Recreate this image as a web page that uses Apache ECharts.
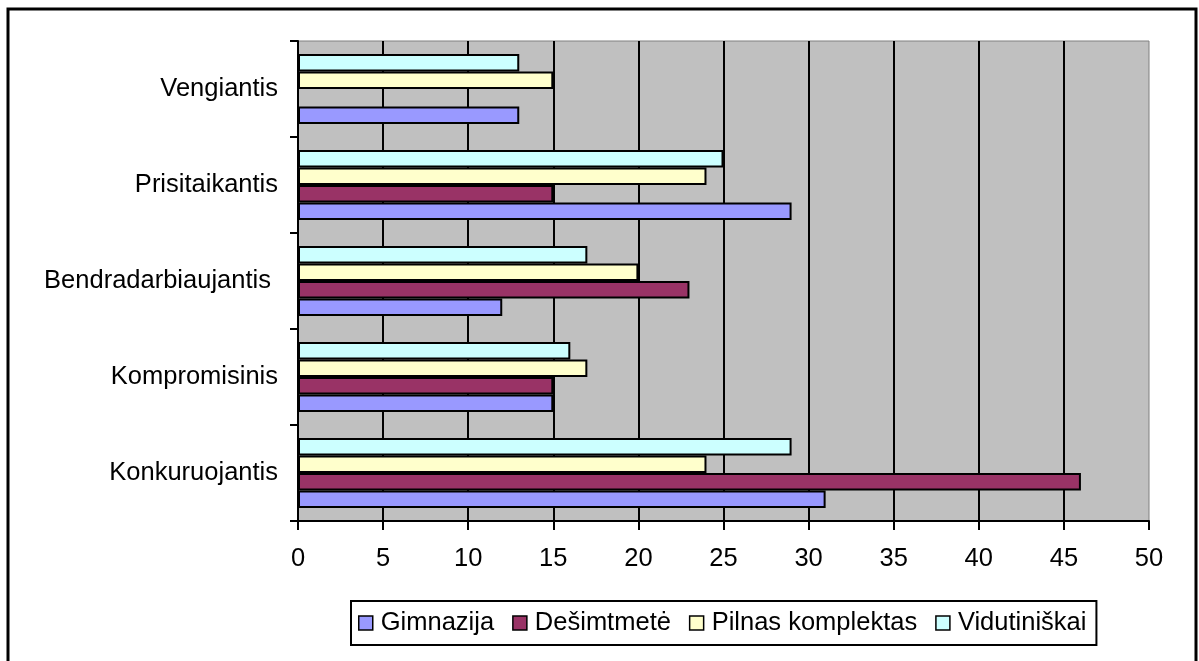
<!DOCTYPE html>
<html>
<head>
<meta charset="utf-8">
<script src="https://cdn.jsdelivr.net/npm/echarts@6/dist/echarts.min.js"></script>
<style>
  html, body { margin: 0; padding: 0; background: #fff; }
  #chart { width: 1199px; height: 661px; }
</style>
</head>
<body>
<div id="chart"></div>
<script>
  // categories from bottom to top
  var categories = ['Konkuruojantis', 'Kompromisinis', 'Bendradarbiaujantis ', 'Prisitaikantis', 'Vengiantis']
  var seriesNames = ['Gimnazija', 'Dešimtmetė', 'Pilnas komplektas', 'Vidutiniškai']
  var gimnazija = [31, 15, 12, 29, 13]
  var desimtmete = [46, 15, 23, 15, null]
  var pilnas = [24, 17, 20, 24, 15]
  var vidutiniskai = [29, 16, 17, 25, 13]
  var colors = ['#9999FF', '#993366', '#FFFFCC', '#CCFFFF']

  var font = 'Liberation Sans, Arial, sans-serif'
  var fs = 25.5
  var chart = echarts.init(document.getElementById('chart'))

  function bar (i, data) {
    return {
      name: seriesNames[i],
      type: 'bar',
      data: data,
      barGap: '0%',
      barCategoryGap: '27%',
      itemStyle: { color: colors[i], borderColor: '#000', borderWidth: 2 }
    }
  }

  chart.setOption({
    animation: false,
    textStyle: { fontFamily: font, color: '#000' },
    graphic: [{
      type: 'rect',
      shape: { x: 8, y: 9, width: 1188, height: 700 },
      style: { fill: 'none', stroke: '#000', lineWidth: 3 },
      z: 100
    }],
    grid: {
      left: 298, right: 50, top: 41, bottom: 140,
      show: true, backgroundColor: '#C0C0C0', borderColor: '#808080', borderWidth: 1
    },
    legend: {
      data: seriesNames,
      left: 351,
      top: 601,
      icon: 'rect',
      itemWidth: 14,
      itemHeight: 14,
      itemGap: 18,
      padding: [9, 10, 9, 7],
      borderColor: '#000',
      borderWidth: 2,
      itemStyle: { borderColor: '#000', borderWidth: 1.5 },
      textStyle: { fontFamily: font, fontSize: fs, color: '#000', padding: [0, 0, 0, 3] }
    },
    xAxis: {
      type: 'value',
      min: 0,
      max: 50,
      interval: 5,
      axisLine: { show: true, lineStyle: { color: '#000', width: 2 } },
      axisTick: { show: true, length: 9, lineStyle: { color: '#000', width: 2 } },
      axisLabel: { fontSize: fs, color: '#000', margin: 25, fontFamily: font },
      splitLine: { show: true, showMinLine: false, showMaxLine: false, lineStyle: { color: '#000', width: 2 } }
    },
    yAxis: {
      type: 'category',
      data: categories,
      axisLine: { show: true, lineStyle: { color: '#000', width: 2 } },
      axisTick: { show: true, length: 8, lineStyle: { color: '#000', width: 2 } },
      axisLabel: { fontSize: fs, color: '#000', margin: 20, fontFamily: font },
      splitLine: { show: false }
    },
    // series listed top to bottom inside each band, ECharts stacks the first one on top
    series: [
      bar(3, vidutiniskai),
      bar(2, pilnas),
      bar(1, desimtmete),
      bar(0, gimnazija)
    ]
  })
</script>
</body>
</html>
